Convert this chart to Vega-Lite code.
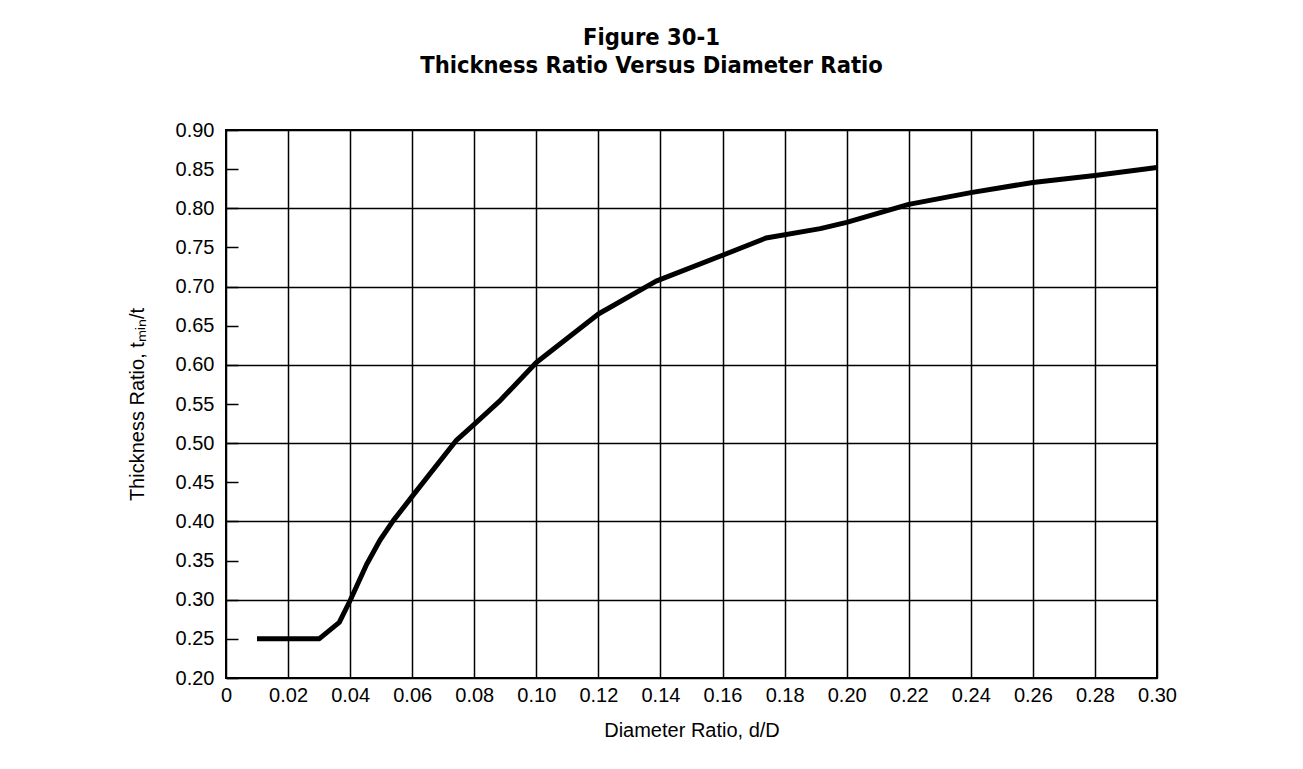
{
  "$schema": "https://vega.github.io/schema/vega-lite/v6.json",
  "autosize": "none",
  "width": 931,
  "height": 548,
  "padding": {"left": 226, "top": 130, "right": 146, "bottom": 91},
  "background": "white",
  "title": {
    "text": ["Figure 30-1", "Thickness Ratio Versus Diameter Ratio"],
    "font": "DejaVu Sans Condensed, sans-serif",
    "fontSize": 23.5,
    "fontWeight": "bold",
    "color": "black",
    "anchor": "middle",
    "frame": "group",
    "dx": -40,
    "offset": 43,
    "lineHeight": 28
  },
  "data": {
    "values": [
      {"d_D": 0.01, "t_ratio": 0.25},
      {"d_D": 0.03, "t_ratio": 0.25},
      {"d_D": 0.0365, "t_ratio": 0.271},
      {"d_D": 0.04, "t_ratio": 0.299},
      {"d_D": 0.0453, "t_ratio": 0.345},
      {"d_D": 0.0496, "t_ratio": 0.376},
      {"d_D": 0.0539, "t_ratio": 0.401},
      {"d_D": 0.0598, "t_ratio": 0.431},
      {"d_D": 0.0743, "t_ratio": 0.504},
      {"d_D": 0.0797, "t_ratio": 0.523},
      {"d_D": 0.0885, "t_ratio": 0.555},
      {"d_D": 0.10, "t_ratio": 0.603},
      {"d_D": 0.12, "t_ratio": 0.665},
      {"d_D": 0.1386, "t_ratio": 0.707},
      {"d_D": 0.16, "t_ratio": 0.740},
      {"d_D": 0.174, "t_ratio": 0.762},
      {"d_D": 0.1915, "t_ratio": 0.774},
      {"d_D": 0.20, "t_ratio": 0.782},
      {"d_D": 0.22, "t_ratio": 0.805},
      {"d_D": 0.24, "t_ratio": 0.820},
      {"d_D": 0.26, "t_ratio": 0.833},
      {"d_D": 0.28, "t_ratio": 0.842},
      {"d_D": 0.30, "t_ratio": 0.852}
    ]
  },
  "mark": {"type": "line", "color": "black", "strokeWidth": 5, "strokeJoin": "round"},
  "encoding": {
    "x": {
      "field": "d_D",
      "type": "quantitative",
      "scale": {"domain": [0, 0.3], "nice": false, "zero": false},
      "axis": {
        "values": [0, 0.02, 0.04, 0.06, 0.08, 0.1, 0.12, 0.14, 0.16, 0.18, 0.2, 0.22, 0.24, 0.26, 0.28, 0.3],
        "grid": true,
        "gridColor": "black",
        "gridWidth": 1.5,
        "gridOpacity": 1,
        "domain": false,
        "ticks": false,
        "labelExpr": "datum.value == 0 ? '0' : format(datum.value, '.2f')",
        "labelFont": "Liberation Sans",
        "labelFontSize": 20,
        "labelColor": "black",
        "labelPadding": 7,
        "labelFlush": false,
        "labelOverlap": false,
        "title": "Diameter Ratio, d/D",
        "titleFont": "Liberation Sans",
        "titleFontSize": 20,
        "titleFontWeight": "normal",
        "titleColor": "black",
        "titlePadding": 15
      }
    },
    "y": {
      "field": "t_ratio",
      "type": "quantitative",
      "scale": {"domain": [0.2, 0.9], "nice": false, "zero": false},
      "axis": {
        "values": [0.2, 0.25, 0.3, 0.35, 0.4, 0.45, 0.5, 0.55, 0.6, 0.65, 0.7, 0.75, 0.8, 0.85, 0.9],
        "grid": true,
        "gridColor": "black",
        "gridWidth": 1.5,
        "gridOpacity": {"condition": {"test": "round(datum.value * 100) % 10 == 0", "value": 1}, "value": 0},
        "domain": false,
        "ticks": true,
        "tickColor": "black",
        "tickWidth": 1.5,
        "tickSize": -12,
        "format": ".2f",
        "labelFont": "Liberation Sans",
        "labelFontSize": 20,
        "labelColor": "black",
        "labelPadding": 24,
        "labelOverlap": false,
        "labelFlush": false,
        "title": "Thickness Ratio, tₘᵢₙ/t",
        "titleFont": "Liberation Sans",
        "titleFontSize": 20,
        "titleFontWeight": "normal",
        "titleColor": "black",
        "titlePadding": 28
      }
    }
  },
  "config": {"view": {"stroke": "black", "strokeWidth": 2}}
}
